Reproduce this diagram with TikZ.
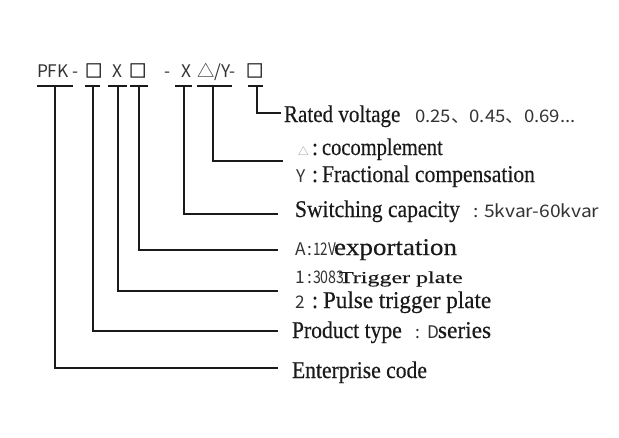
\documentclass[tikz,border=0pt]{standalone}
\usepackage{fontspec}
\setmainfont{Liberation Serif}[FakeStretch=0.9, FakeBold=0.4]
\newfontfamily\cjk{Noto Sans CJK SC}
\newfontfamily\cjkbold{Noto Sans CJK SC}[FakeBold=2.5]
\definecolor{ink}{HTML}{1A1A1A}
\definecolor{sfink}{HTML}{333333}
\definecolor{faint}{HTML}{8A8A8A}
\newcommand{\sx}[2]{\scalebox{#1}[1]{#2}}
\begin{document}
\begin{tikzpicture}[x=0.75pt,y=-0.75pt,
  line width=1.5pt, draw=ink,
  every node/.style={inner sep=0pt, outer sep=0pt, anchor=base west, text=ink},
  hdr/.style={font=\cjk\fontsize{13}{13}\selectfont, text=sfink},
  hdrb/.style={font=\cjkbold\fontsize{13}{13}\selectfont, text=sfink},
  big/.style={font=\fontsize{18}{18}\selectfont},
  sf/.style={font=\cjk\fontsize{13}{13}\selectfont, text=sfink}]
\useasboundingbox (0,0) rectangle (619,437);
% header
\node[hdr] (pfk) at (37,77) {PFK -};
\node[hdrb] (sq1) at (85,77) {□};
\node[hdr] (x1) at (112,77) {X};
\node[hdrb] (sq2) at (129,77) {□};
\node[hdr] (dash) at (164,77) {-};
\node[hdr] (x2) at (181,77) {X};
\node[hdr] (tri) at (197,77) {△/Y-};
\node[hdrb] (sq3) at (246,77) {□};
% bars
\foreach \n/\l/\r/\m in {1/37/73/55, 2/85/100/93, 3/108/127/118, 4/130/148/139, 5/175/192/184, 6/197/232/213, 7/248/263/257}{
  \coordinate (bl\n) at (\l,86);
  \coordinate (br\n) at (\r,86);
  \coordinate (bm\n) at (\m,86);
}
% ends of connectors
\coordinate (e7) at (281,113);
\coordinate (e6) at (283,161);
\coordinate (e5) at (278,214);
\coordinate (e4) at (278,250);
\coordinate (e3) at (278,291);
\coordinate (e2) at (278,331);
\coordinate (e1) at (278,368);
\foreach \n in {1,...,7}{
  \draw (bl\n) -- (br\n);
  \draw (bm\n) |- (e\n);
}
% labels
\node[big] (rv) at (284,122) {\sx{0.975}{Rated voltage}};
\node[sf] (rvv) at (415,122) {\sx{1.07}{0.25、0.45、0.69...}};
\node[font=\cjk\fontsize{8}{8}\selectfont, text=faint] (tri2) at (298,155) {△};
\node[big] (c1) at (312,155) {:};
\node[big] (coc) at (322,155) {\sx{0.95}{cocomplement}};
\node[sf] (y2) at (296,182) {Y};
\node[big] (c2) at (312,182) {:};
\node[big] (fc) at (322,182) {Fractional compensation};
\node[big] (sw) at (295,217) {Switching capacity};
\node[sf] (swv) at (473,217) {\sx{1.11}{: 5kvar-60kvar}};
\node[sf] (a2) at (295,255) {A};
\node[sf] (c3) at (307,255) {:};
\node[sf] (v12) at (313,255) {\sx{0.78}{12V}};
\node[big] (exp) at (334,255) {\sx{1.25}{exportation}};
\node[sf] (o2) at (295,283) {1};
\node[sf] (c4) at (307,283) {:};
\node[sf] (v3083) at (313,283) {\sx{0.82}{3083}};
\node[font=\fontsize{12.5}{12.5}\selectfont] (tp) at (339,283) {\sx{1.6}{Trigger plate}};
\node[sf] (t2) at (295,308) {2};
\node[big] (c5) at (312,308) {:};
\node[big] (ptp) at (323,308) {\sx{1.07}{Pulse trigger plate}};
\node[big] (pt) at (292,338) {Product type};
\node[sf] (c6) at (415,338) {:};
\node[sf] (dd) at (427,338) {D};
\node[big] (ser) at (438,338) {\sx{1.08}{series}};
\node[big] (ec) at (292,378) {Enterprise code};
\end{tikzpicture}
\end{document}
